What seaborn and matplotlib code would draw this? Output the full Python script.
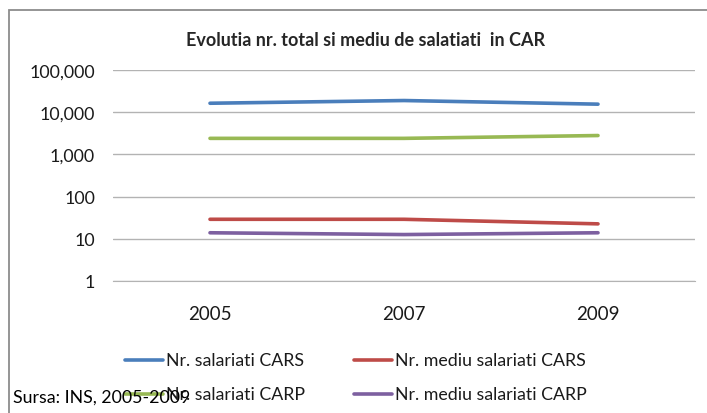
import numpy as np
import pandas as pd
import seaborn as sns
import matplotlib.pyplot as plt
from matplotlib.patches import Rectangle
from matplotlib.ticker import FixedLocator, NullLocator

# values (log scale)
years = ["2005", "2007", "2009"]
nr_salariati_cars = [16300, 18900, 15500]
nr_mediu_cars = [29, 29, 22.6]
nr_salariati_carp = [2400, 2400, 2800]
nr_mediu_carp = [13.9, 12.6, 13.9]

series_names = ["Nr. salariati CARS", "Nr. mediu salariati CARS",
                "Nr. salariati CARP", "Nr. mediu salariati CARP"]
colors = ["#4a7ebb", "#be4b48", "#98b954", "#7d60a0"]

df = pd.DataFrame({
    "an": years * 4,
    "serie": np.repeat(series_names, 3),
    "valoare": nr_salariati_cars + nr_mediu_cars + nr_salariati_carp + nr_mediu_carp,
})

sns.set_style("white")
plt.rcParams['font.family'] = ['Lato', 'DejaVu Sans']

W, H = 707, 414
fig = plt.figure(figsize=(W / 100, H / 100), dpi=100)
ax = fig.add_axes([113 / W, 1 - 282 / H, (695 - 113) / W, (282 - 71) / H])

sns.lineplot(data=df, x="an", y="valoare", hue="serie", hue_order=series_names,
             palette=colors, linewidth=2.6, ax=ax, legend=False, sort=False)

ax.set_yscale("log")
ax.set_ylim(1, 100000)
ax.set_xlim(-0.5, 2.5)
ticks = [1, 10, 100, 1000, 10000, 100000]
ax.yaxis.set_major_locator(FixedLocator(ticks))
ax.yaxis.set_minor_locator(NullLocator())
ax.set_yticklabels([f"{t:,}" for t in ticks])
ax.grid(axis="y", color="#b3b3b3", linewidth=1)
ax.set_axisbelow(True)
for s in ["top", "right", "left"]:
    ax.spines[s].set_visible(False)
ax.spines["bottom"].set_color("#b3b3b3")
ax.tick_params(axis="y", length=0, pad=13, labelsize=12.8, labelcolor="#1a1a1a")
ax.tick_params(axis="x", length=0, pad=17, labelsize=13.5, labelcolor="#1a1a1a")
ax.set_xlabel("")
ax.set_ylabel("")

fig.text(366 / W, 1 - 40 / H, "Evolutia nr. total si mediu de salatiati  in CAR",
         ha="center", va="center", fontsize=13, fontweight="bold")

# legend drawn by hand in two columns
leg_pos = [(125, 361), (354, 361), (125, 395), (354, 395)]
for name, col, (lx, ly) in zip(series_names, colors, leg_pos):
    fig.add_artist(plt.Line2D([lx / W, (lx + 38) / W], [1 - ly / H, 1 - ly / H],
                              color=col, linewidth=2.6, transform=fig.transFigure))
    fig.text((lx + 41) / W, 1 - ly / H, name, ha="left", va="center",
             fontsize=12.8, color="#1a1a1a")

# outer chart border (cropped at right and bottom)
fig.patches.append(Rectangle((8.5 / W, -0.05), 1.2, 1.05 - 10.5 / H, fill=False,
                             edgecolor="#8c8c8c", linewidth=1.3,
                             transform=fig.transFigure, figure=fig))

fig.text(13 / W, 1 - 398 / H, "Sursa: INS, 2005-2009", ha="left", va="center",
         fontsize=12.8, color="black")

fig.savefig("out.png", dpi=100)
